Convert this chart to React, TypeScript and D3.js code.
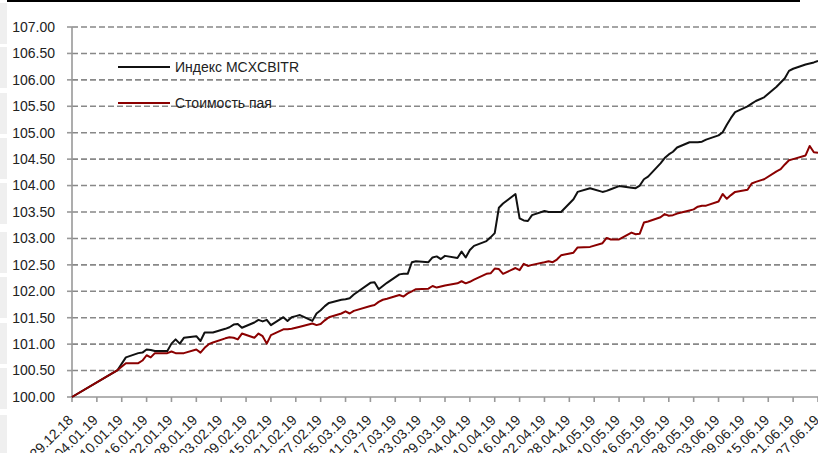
import * as d3 from 'd3'

const dates = [
  '29.12.18', '09.01.19', '11.01.19', '14.01.19', '15.01.19', '16.01.19', '17.01.19', '18.01.19', '21.01.19', '22.01.19',
  '23.01.19', '24.01.19', '25.01.19', '28.01.19', '29.01.19', '30.01.19', '31.01.19', '01.02.19', '04.02.19', '05.02.19',
  '06.02.19', '07.02.19', '08.02.19', '11.02.19', '12.02.19', '13.02.19', '14.02.19', '15.02.19', '18.02.19', '19.02.19',
  '20.02.19', '21.02.19', '22.02.19', '25.02.19', '26.02.19', '27.02.19', '28.02.19', '01.03.19', '04.03.19', '05.03.19',
  '06.03.19', '07.03.19', '11.03.19', '12.03.19', '13.03.19', '14.03.19', '15.03.19', '18.03.19', '19.03.19', '20.03.19',
  '21.03.19', '22.03.19', '25.03.19', '26.03.19', '27.03.19', '28.03.19', '29.03.19', '01.04.19', '02.04.19', '03.04.19',
  '04.04.19', '05.04.19', '08.04.19', '09.04.19', '10.04.19', '11.04.19', '12.04.19', '15.04.19', '16.04.19', '17.04.19',
  '18.04.19', '19.04.19', '22.04.19', '23.04.19', '24.04.19', '25.04.19', '26.04.19', '29.04.19', '30.04.19', '03.05.19',
  '06.05.19', '07.05.19', '08.05.19', '10.05.19', '13.05.19', '14.05.19', '15.05.19', '16.05.19', '17.05.19', '20.05.19',
  '21.05.19', '22.05.19', '23.05.19', '24.05.19', '27.05.19', '28.05.19', '29.05.19', '30.05.19', '31.05.19', '03.06.19',
  '04.06.19', '05.06.19', '06.06.19', '07.06.19', '10.06.19', '11.06.19', '12.06.19', '14.06.19', '17.06.19', '18.06.19',
  '19.06.19', '20.06.19', '21.06.19', '24.06.19', '25.06.19', '26.06.19', '27.06.19',
]

// Индекс MCXCBITR
const indexValues = [
  100.0, 100.51, 100.75, 100.83, 100.84, 100.9, 100.89, 100.87, 100.87, 101.01,
  101.09, 101.01, 101.12, 101.15, 101.06, 101.22, 101.22, 101.22, 101.29, 101.32,
  101.37, 101.38, 101.31, 101.41, 101.46, 101.43, 101.46, 101.36, 101.51, 101.44,
  101.51, 101.53, 101.55, 101.44, 101.58, 101.64, 101.72, 101.78, 101.84, 101.85,
  101.87, 101.94, 102.16, 102.17, 102.04, 102.1, 102.16, 102.32, 102.33, 102.33,
  102.55, 102.57, 102.55, 102.64, 102.66, 102.61, 102.67, 102.63, 102.75, 102.64,
  102.78, 102.86, 102.95, 103.02, 103.1, 103.58, 103.66, 103.84, 103.38, 103.34,
  103.33, 103.44, 103.52, 103.5, 103.5, 103.5, 103.5, 103.74, 103.88, 103.95,
  103.88, 103.9, 103.93, 103.99, 103.96, 103.95, 104.0, 104.12, 104.17, 104.42,
  104.52, 104.59, 104.64, 104.72, 104.82, 104.82, 104.82, 104.83, 104.87, 104.95,
  105.01, 105.15, 105.28, 105.39, 105.5, 105.55, 105.6, 105.67, 105.87, 105.95,
  106.03, 106.17, 106.21, 106.29, 106.31, 106.33, 106.36,
]

// Стоимость пая
const navValues = [
  100.0, 100.51, 100.64, 100.64, 100.69, 100.79, 100.75, 100.83, 100.83, 100.86,
  100.83, 100.83, 100.83, 100.9, 100.84, 100.93, 101.0, 101.03, 101.11, 101.13,
  101.12, 101.09, 101.2, 101.12, 101.2, 101.15, 101.01, 101.17, 101.28, 101.28,
  101.29, 101.31, 101.33, 101.39, 101.36, 101.38, 101.45, 101.51, 101.58, 101.62,
  101.58, 101.63, 101.72, 101.74, 101.8, 101.84, 101.86, 101.93, 101.9, 101.96,
  102.0, 102.04, 102.05, 102.1, 102.07, 102.09, 102.11, 102.15, 102.19, 102.15,
  102.18, 102.22, 102.33, 102.34, 102.43, 102.42, 102.33, 102.44, 102.4, 102.52,
  102.48, 102.5, 102.55, 102.57, 102.55, 102.6, 102.68, 102.73, 102.83, 102.84,
  102.91, 103.01, 102.98, 102.98, 103.11, 103.08, 103.09, 103.3, 103.32, 103.4,
  103.46, 103.43, 103.44, 103.47, 103.53, 103.55, 103.6, 103.62, 103.62, 103.7,
  103.84, 103.75, 103.82, 103.88, 103.92, 104.04, 104.07, 104.12, 104.27, 104.31,
  104.4, 104.48, 104.5, 104.57, 104.75, 104.63, 104.62,
]

const xTickLabels = [
  '29.12.18', '04.01.19', '10.01.19', '16.01.19', '22.01.19', '28.01.19', '03.02.19', '09.02.19',
  '15.02.19', '21.02.19', '27.02.19', '05.03.19', '11.03.19', '17.03.19', '23.03.19', '29.03.19',
  '04.04.19', '10.04.19', '16.04.19', '22.04.19', '28.04.19', '04.05.19', '10.05.19', '16.05.19',
  '22.05.19', '28.05.19', '03.06.19', '09.06.19', '15.06.19', '21.06.19', '27.06.19',
]

const yTicks = [100, 100.5, 101, 101.5, 102, 102.5, 103, 103.5, 104, 104.5, 105, 105.5, 106, 106.5, 107]

const seriesNames = ['Индекс MCXCBITR', 'Стоимость пая']
const seriesColors = ['#111111', '#8b0000']

const W = 818
const H = 453
const FONT = '"Liberation Sans", Arial, sans-serif'

export default function App() {
  const parse = d3.utcParse('%d.%m.%y')
  const tickDates = xTickLabels.map(s => parse(s) as Date)

  const x = d3.scaleUtc()
    .domain([tickDates[0], tickDates[tickDates.length - 1]])
    .range([72, 818])
  const y = d3.scaleLinear().domain([100, 107]).range([397, 27])

  const pts = dates.map(d => parse(d) as Date)
  const line = d3.line<number>()
    .x((_, i) => x(pts[i]))
    .y(v => y(v))

  const paths = [indexValues, navValues].map(vals => line(vals) || '')

  // light grey page stripes at the left edge
  const stripes = [3, 47, 93, 138, 183, 232, 277, 323, 368, 415]

  return (
    <div style={{ position: 'absolute', left: 0, top: 0 }}>
      <svg width={W} height={H} style={{ display: 'block', background: '#fff' }}>
        {stripes.map((s, i) => (
          <rect key={i} x={0} y={s} width={7} height={41} fill="#efefef" />
        ))}
        <line x1={7} x2={800} y1={1} y2={1} stroke="#000" strokeWidth={2} />

        {/* grid */}
        {yTicks.slice(1).map(t => (
          <line key={t} x1={72} x2={W} y1={y(t)} y2={y(t)}
            stroke="#888" strokeWidth={1.6} strokeDasharray="6,3" />
        ))}

        {/* y axis */}
        <line x1={72} x2={72} y1={y(107)} y2={y(100)} stroke="#999" strokeWidth={1.6} />
        {yTicks.map(t => (
          <g key={t}>
            <line x1={67} x2={72} y1={y(t)} y2={y(t)} stroke="#999" strokeWidth={1.6} />
            <text x={55} y={y(t)} dy="0.35em" textAnchor="end" fontFamily={FONT}
              fontSize={14} fill="#222">{t.toFixed(2)}</text>
          </g>
        ))}

        {/* x axis */}
        <line x1={72} x2={W} y1={y(100)} y2={y(100)} stroke="#999" strokeWidth={1.6} />
        {tickDates.map((d, i) => (
          <g key={i}>
            <line x1={x(d)} x2={x(d)} y1={y(100)} y2={y(100) + 5} stroke="#999" strokeWidth={1.6} />
            <text transform={`translate(${x(d) + 2},${421}) rotate(-45)`} textAnchor="end"
              fontFamily={FONT} fontSize={14} fill="#222">{xTickLabels[i]}</text>
          </g>
        ))}

        {/* series */}
        {paths.map((p, i) => (
          <path key={i} d={p} fill="none" stroke={seriesColors[i]} strokeWidth={2}
            strokeLinejoin="round" />
        ))}

        {/* legend */}
        {seriesNames.map((n, i) => (
          <g key={n} transform={`translate(118,${67 + i * 36})`}>
            <line x1={0} x2={52} y1={0} y2={0} stroke={seriesColors[i]} strokeWidth={2} />
            <text x={57} y={0} dy="0.35em" fontFamily={FONT} fontSize={14} fill="#222">{n}</text>
          </g>
        ))}
      </svg>
    </div>
  )
}
